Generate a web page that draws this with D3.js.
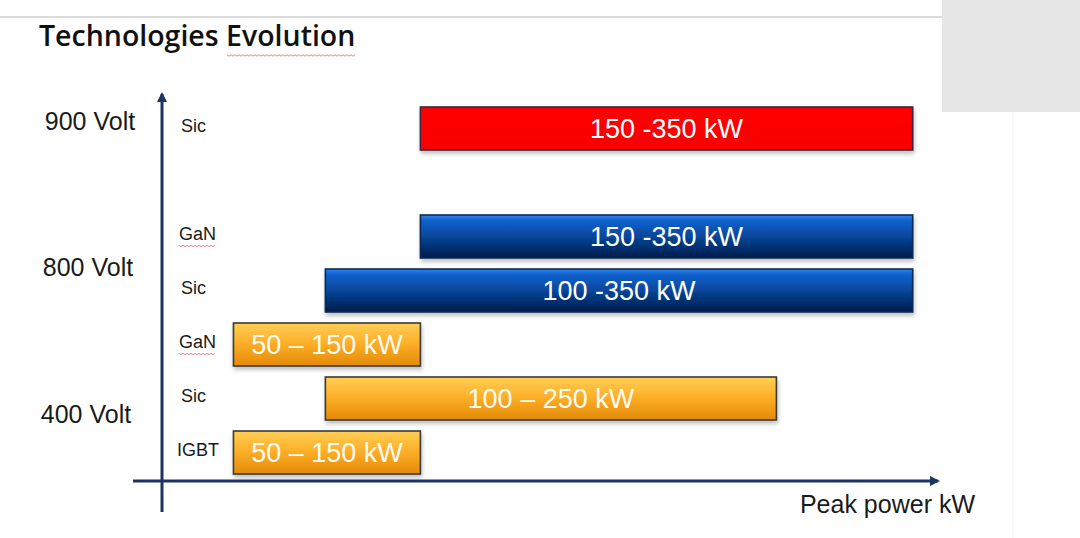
<!DOCTYPE html>
<html>
<head>
<meta charset="utf-8">
<script src="https://cdn.jsdelivr.net/npm/d3@7"></script>
<style>
  body { margin: 0; background: #fff; }
  svg { display: block; }
</style>
</head>
<body>
<div class="canvas"></div>
<script>
// chart data
const techs = ['Sic', 'GaN', 'Sic', 'GaN', 'Sic', 'IGBT'];
const voltages = ['900 Volt', '800 Volt', '800 Volt', '400 Volt', '400 Volt', '400 Volt'];
const startKW = [150, 150, 100, 50, 100, 50];
const endKW = [350, 350, 350, 150, 250, 150];
const rangeLabels = ['150 -350 kW', '150 -350 kW', '100 -350 kW', '50 – 150 kW', '100 – 250 kW', '50 – 150 kW'];
const voltageGroups = ['900 Volt', '800 Volt', '400 Volt'];
const kwBreaks = [50, 100, 150, 250, 350]; // schematic (non linear) power axis
const title = 'Technologies Evolution';
const xTitle = 'Peak power kW';

const dims = {width: 1080, height: 538};
const plot = {left: 162, right: 940, top: 92, bottom: 481};

const svg = d3.select('.canvas')
    .append('svg')
    .attr('width', dims.width)
    .attr('height', dims.height);

const defs = svg.append('defs');

// bar gradients
const grad = (id, stops) => {
    const g = defs.append('linearGradient').attr('id', id)
        .attr('x1', 0).attr('y1', 0).attr('x2', 0).attr('y2', 1);
    stops.forEach(s => g.append('stop').attr('offset', s[0]).attr('stop-color', s[1]));
};
grad('gRed', [[0, '#ff0000'], [1, '#f80000']]);
grad('gBlue', [[0, '#3286ee'], [0.12, '#1262cf'], [0.55, '#064292'], [1, '#021c48']]);
grad('gOrange', [[0, '#ffcf55'], [0.45, '#fdb02a'], [1, '#e48a06']]);

const shadow = defs.append('filter').attr('id', 'shadow')
    .attr('x', '-5%').attr('y', '-20%').attr('width', '110%').attr('height', '160%');
shadow.append('feDropShadow').attr('dx', 1).attr('dy', 3).attr('stdDeviation', 2)
    .attr('flood-color', '#000').attr('flood-opacity', 0.25);

const fills = {'900 Volt': 'url(#gRed)', '800 Volt': 'url(#gBlue)', '400 Volt': 'url(#gOrange)'};
const strokes = {'900 Volt': '#3a2540', '800 Volt': '#0f2a55', '400 Volt': '#3a3a3a'};

// page furniture (slide background)
svg.append('line')
    .attr('x1', 0).attr('x2', 942).attr('y1', 17).attr('y2', 17)
    .attr('stroke', '#cfcfcf').attr('stroke-width', 1.5);
svg.append('rect')
    .attr('x', 942).attr('y', 0).attr('width', 138).attr('height', 112)
    .attr('fill', '#e6e6e6');
svg.append('line')
    .attr('x1', 1013).attr('x2', 1013).attr('y1', 112).attr('y2', dims.height)
    .attr('stroke', '#f3f3f3').attr('stroke-width', 1);

// squiggly spell-check underline
const squiggle = (x0, x1, y) => {
    const pts = d3.range(x0, x1, 2).map((x, i) => [x, y + (i % 2 ? 1.2 : -0.2)]);
    svg.append('path')
        .attr('d', d3.line()(pts))
        .attr('fill', 'none').attr('stroke', '#e06a6a').attr('stroke-width', 0.8);
};

// title
svg.append('text')
    .attr('x', 39).attr('y', 46)
    .attr('font-family', '"Open Sans", sans-serif')
    .attr('font-weight', 600)
    .attr('font-size', 28.5)
    .attr('fill', '#111')
    .text(title);
squiggle(227, 356, 55);

// scales
const rowKeys = techs.map((t, i) => `r${i}`);
const y = d3.scalePoint()
    .domain([rowKeys[0], 'gap', ...rowKeys.slice(1)])
    .range([128.5, 452.5]);

const breakFrac = [0.093, 0.211, 0.333, 0.79, 0.965];
const x = d3.scaleLinear()
    .domain(kwBreaks)
    .range(breakFrac.map(f => 161 + f * (plot.right - 161)));

const yVolt = d3.scalePoint()
    .domain(voltageGroups)
    .range([121, 414]);

const barH = 43;

// axes
const axisColor = '#1c3461';
defs.append('marker').attr('id', 'arrow')
    .attr('viewBox', '0 0 10 10').attr('refX', 8).attr('refY', 5)
    .attr('markerWidth', 3.4).attr('markerHeight', 3.4).attr('orient', 'auto')
    .append('path').attr('d', 'M0,0 L10,5 L0,10 z').attr('fill', axisColor);

svg.append('line')
    .attr('x1', plot.left).attr('x2', plot.left)
    .attr('y1', 512).attr('y2', plot.top + 2)
    .attr('stroke', axisColor).attr('stroke-width', 3)
    .attr('marker-end', 'url(#arrow)');
svg.append('line')
    .attr('x1', 133).attr('x2', plot.right - 2)
    .attr('y1', plot.bottom).attr('y2', plot.bottom)
    .attr('stroke', axisColor).attr('stroke-width', 3)
    .attr('marker-end', 'url(#arrow)');

svg.append('text')
    .attr('x', 975).attr('y', 513)
    .attr('text-anchor', 'end')
    .attr('font-family', '"Liberation Sans", Arial, sans-serif')
    .attr('font-size', 25)
    .attr('fill', '#1a1a1a')
    .text(xTitle);

// voltage labels
svg.selectAll('text.volt')
    .data(voltageGroups)
    .enter().append('text')
    .attr('class', 'volt')
    .attr('x', (d, i) => 90 - i * 2)
    .attr('y', d => yVolt(d))
    .attr('dy', '0.35em')
    .attr('text-anchor', 'middle')
    .attr('font-family', '"Liberation Sans", Arial, sans-serif')
    .attr('font-size', 25)
    .attr('fill', '#1a1a1a')
    .text(d => d);

// technology labels
const rows = techs.map((t, i) => ({
    key: rowKeys[i], tech: t, volt: voltages[i],
    start: startKW[i], end: endKW[i], label: rangeLabels[i]
}));

svg.selectAll('text.tech')
    .data(rows)
    .enter().append('text')
    .attr('class', 'tech')
    .attr('x', d => d.tech === 'Sic' ? 181 : (d.tech === 'GaN' ? 179 : 177))
    .attr('y', d => y(d.key) - 3)
    .attr('dy', '0.35em')
    .attr('font-family', '"Liberation Sans", Arial, sans-serif')
    .attr('font-size', 18)
    .attr('fill', '#1a1a1a')
    .text(d => d.tech);

rows.filter(d => d.tech === 'GaN')
    .forEach(d => squiggle(179, 217, y(d.key) + 9));

// bars
const bars = svg.selectAll('g.bar')
    .data(rows)
    .enter().append('g')
    .attr('class', 'bar');

bars.append('rect')
    .attr('x', d => x(d.start))
    .attr('y', d => y(d.key) - barH / 2)
    .attr('width', d => x(d.end) - x(d.start))
    .attr('height', barH)
    .attr('fill', d => fills[d.volt])
    .attr('stroke', d => strokes[d.volt])
    .attr('stroke-width', 1.6)
    .attr('filter', 'url(#shadow)');

bars.append('text')
    .attr('x', d => (x(d.start) + x(d.end)) / 2)
    .attr('y', d => y(d.key))
    .attr('dy', '0.36em')
    .attr('text-anchor', 'middle')
    .attr('font-family', '"Liberation Sans", Arial, sans-serif')
    .attr('font-size', 27)
    .attr('fill', d => d.volt === '400 Volt' ? '#fffaf0' : '#fff')
    .text(d => d.label);
</script>
</body>
</html>
